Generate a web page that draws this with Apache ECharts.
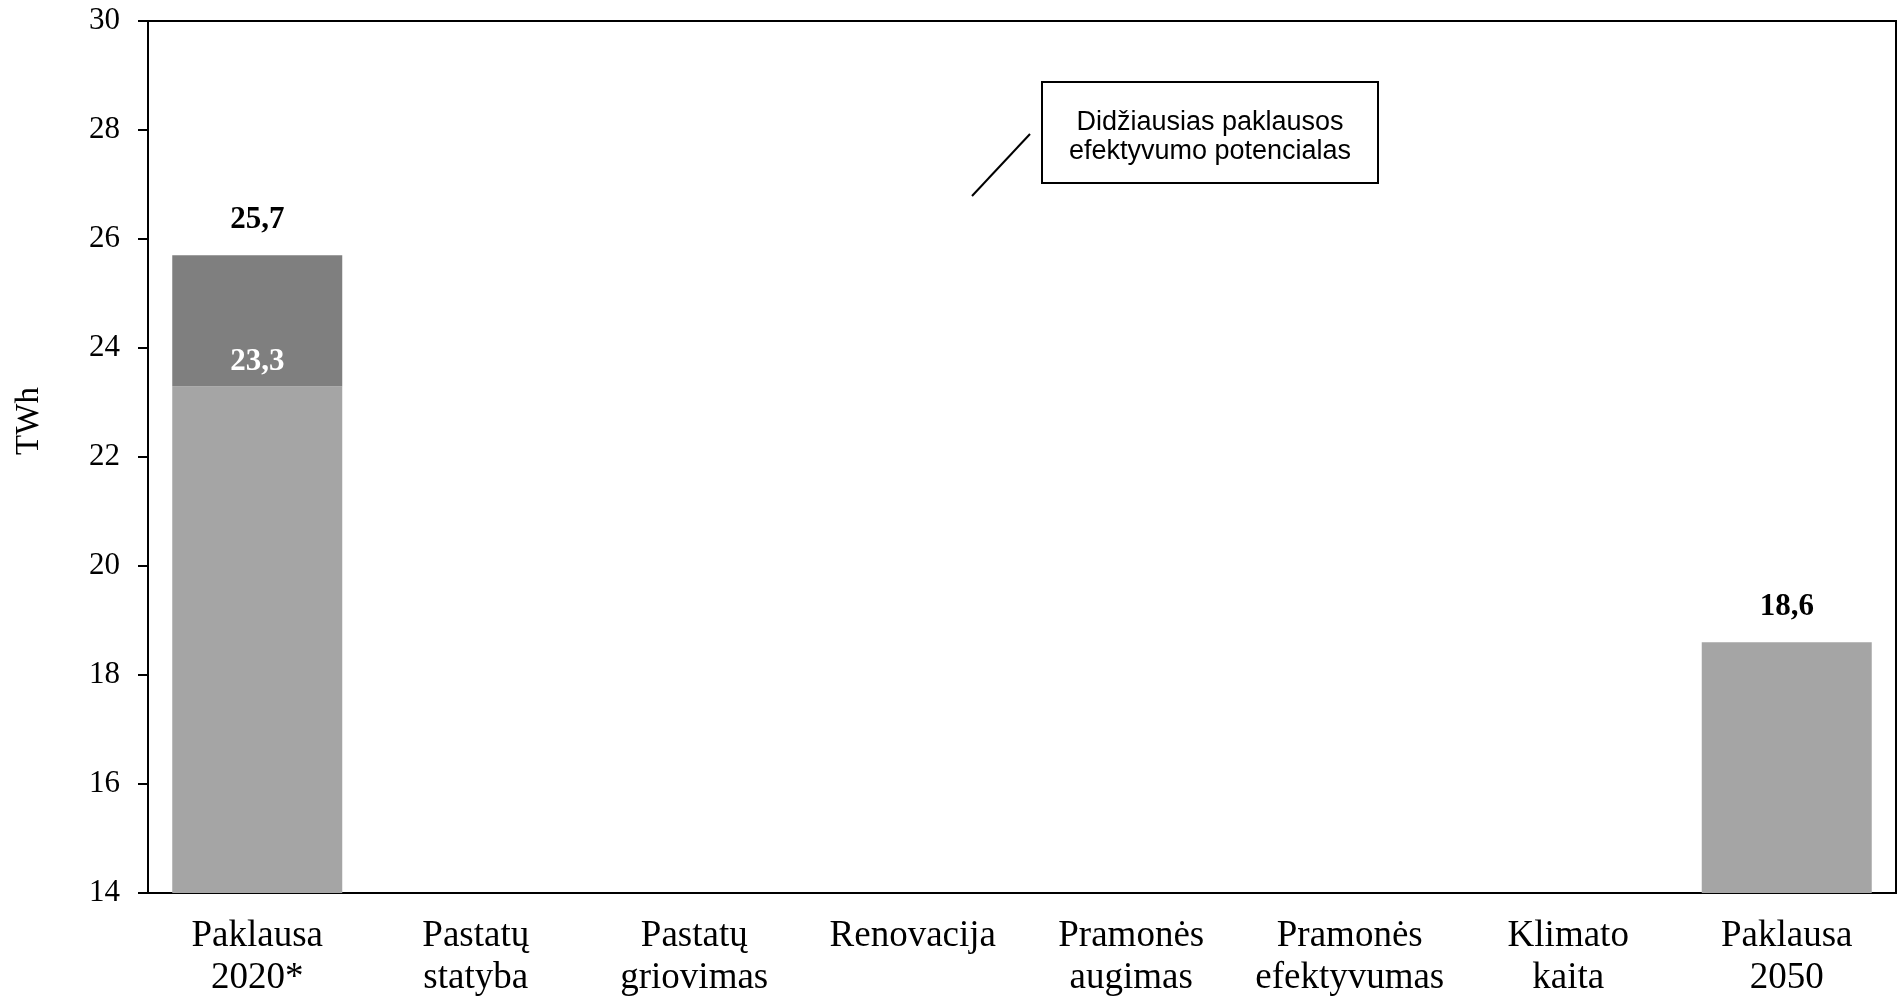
<!DOCTYPE html>
<html>
<head>
<meta charset="utf-8">
<script src="https://cdn.jsdelivr.net/npm/echarts@6/dist/echarts.min.js"></script>
<style>
html,body{margin:0;padding:0;background:#fff;overflow:hidden;}
#chart{width:1902px;height:1000px;}
</style>
</head>
<body>
<div id="chart"></div>
<script>
const categories = ['Paklausa\n2020*', 'Pastatų\nstatyba', 'Pastatų\ngriovimas', 'Renovacija', 'Pramonės\naugimas', 'Pramonės\nefektyvumas', 'Klimato\nkaita', 'Paklausa\n2050'];
const baseValues = [23.3, null, null, null, null, null, null, 18.6];
const totalValues = [25.7, null, null, null, null, null, null, null];
const yTicks = [14, 16, 18, 20, 22, 24, 26, 28, 30];

const upperValues = totalValues.map((t, i) => (t == null ? null : +(t - baseValues[i]).toFixed(2)));
const fmt = v => v.toFixed(1).replace('.', ',');
const serif = '"Liberation Serif", "Times New Roman", serif';

const chart = echarts.init(document.getElementById('chart'));
chart.setOption({
  animation: false,
  grid: { left: 148, right: 6, top: 21, bottom: 107, show: true, borderColor: '#000', borderWidth: 2, backgroundColor: 'transparent' },
  xAxis: {
    type: 'category',
    data: categories,
    axisLine: { lineStyle: { color: '#000', width: 2 } },
    axisTick: { show: false },
    axisLabel: { color: '#000', fontFamily: serif, fontSize: 37, lineHeight: 42, margin: 22, interval: 0 }
  },
  yAxis: {
    type: 'value',
    min: yTicks[0],
    max: yTicks[yTicks.length - 1],
    interval: 2,
    axisLine: { show: true, lineStyle: { color: '#000', width: 2 } },
    axisTick: { show: true, length: 10, lineStyle: { color: '#000', width: 2 } },
    splitLine: { show: false },
    axisLabel: { color: '#000', fontFamily: serif, fontSize: 31, margin: 28 }
  },
  series: [
    {
      type: 'bar',
      stack: 'd',
      data: baseValues,
      barWidth: '77.8%',
      itemStyle: { color: '#a5a5a5' },
      label: {
        show: true,
        position: 'top',
        distance: 20,
        color: '#000',
        fontFamily: serif,
        fontWeight: 'bold',
        fontSize: 31,
        formatter: p => (p.dataIndex === categories.length - 1 && p.value != null ? fmt(p.value) : '')
      }
    },
    {
      type: 'bar',
      stack: 'd',
      data: upperValues,
      barWidth: '77.8%',
      itemStyle: { color: '#7f7f7f' },
      label: {
        show: true,
        position: 'insideBottom',
        distance: 9,
        color: '#fff',
        fontFamily: serif,
        fontWeight: 'bold',
        fontSize: 31,
        formatter: p => (baseValues[p.dataIndex] != null && p.value != null ? fmt(baseValues[p.dataIndex]) : '')
      }
    },
    {
      type: 'bar',
      stack: 'd',
      data: upperValues.map(v => (v == null ? null : 0)),
      barWidth: '77.8%',
      itemStyle: { color: 'transparent' },
      label: {
        show: true,
        position: 'top',
        distance: 20,
        color: '#000',
        fontFamily: serif,
        fontWeight: 'bold',
        fontSize: 31,
        formatter: p => (totalValues[p.dataIndex] != null ? fmt(totalValues[p.dataIndex]) : '')
      }
    }
  ],
  graphic: [
    {
      type: 'text',
      x: 29,
      y: 421,
      rotation: Math.PI / 2,
      style: {
        text: 'TWh',
        fill: '#000',
        font: '33px "Liberation Serif", "Times New Roman", serif',
        align: 'center',
        verticalAlign: 'middle'
      }
    },
    {
      type: 'line',
      shape: { x1: 972, y1: 196, x2: 1030, y2: 134 },
      style: { stroke: '#000', lineWidth: 2 }
    },
    {
      type: 'rect',
      shape: { x: 1042, y: 82, width: 336, height: 101 },
      style: { fill: '#fff', stroke: '#000', lineWidth: 2 }
    },
    {
      type: 'text',
      x: 1210,
      y: 137,
      style: {
        text: 'Didžiausias paklausos\nefektyvumo potencialas',
        fill: '#000',
        font: '27px "Liberation Sans", Arial, sans-serif',
        lineHeight: 29,
        align: 'center',
        verticalAlign: 'middle'
      }
    }
  ]
});
</script>
</body>
</html>
